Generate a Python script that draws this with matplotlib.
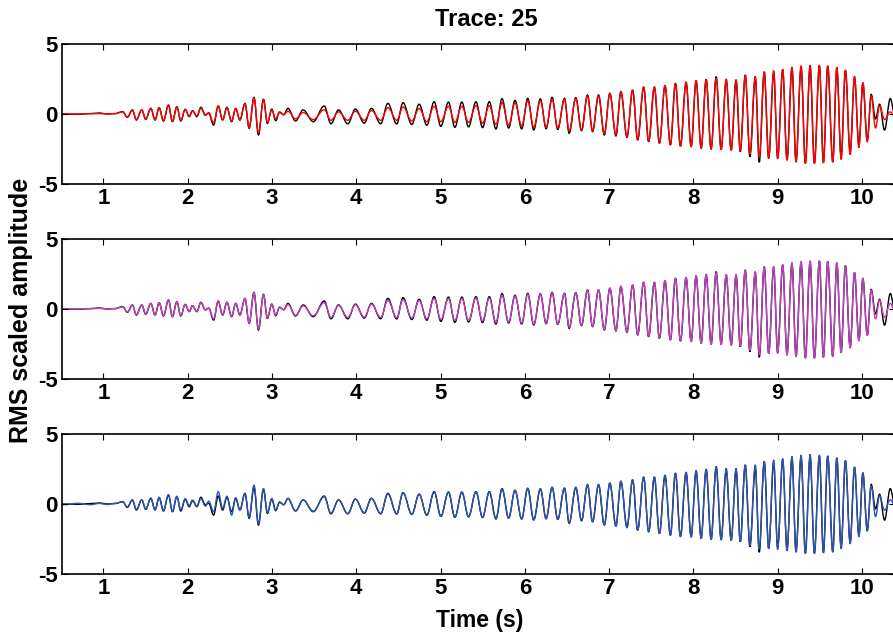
import numpy as np
import matplotlib
matplotlib.use("Agg")
import matplotlib.pyplot as plt
from matplotlib.path import Path
from matplotlib.patches import PathPatch

# times of the turning points (s), shared by all traces
t_ext = [0.51, 0.70, 0.85, 0.95, 1.05, 1.14, 1.23, 1.285, 1.345, 1.392,
         1.456, 1.503, 1.563, 1.614, 1.662, 1.713, 1.773, 1.820, 1.872, 1.919,
         1.971, 2.019, 2.058, 2.110, 2.157, 2.21, 2.25, 2.308, 2.363, 2.415,
         2.466, 2.522, 2.57, 2.62, 2.68, 2.73, 2.787, 2.84, 2.90, 2.946,
         2.998, 3.045, 3.09, 3.14, 3.19, 3.28, 3.37, 3.49, 3.62, 3.70,
         3.79, 3.90, 3.99, 4.095, 4.18, 4.29, 4.375, 4.48, 4.555, 4.659,
         4.746, 4.837, 4.924, 5.003, 5.094, 5.170, 5.253, 5.332, 5.420, 5.498,
         5.578, 5.657, 5.729, 5.808, 5.883, 5.962, 6.034, 6.105, 6.184, 6.252,
         6.323, 6.390, 6.470, 6.525, 6.604, 6.672, 6.743, 6.803, 6.874, 6.942,
         7.008, 7.080, 7.139, 7.211, 7.278, 7.338, 7.409, 7.468, 7.536, 7.596,
         7.662, 7.726, 7.786, 7.845, 7.912, 7.972, 8.031, 8.091, 8.150, 8.209,
         8.269, 8.328, 8.388, 8.447, 8.505, 8.555, 8.614, 8.669, 8.733, 8.780,
         8.839, 8.892, 8.951, 8.998, 9.058, 9.109, 9.168, 9.216, 9.276, 9.327,
         9.383, 9.434, 9.493, 9.541, 9.592, 9.652, 9.700, 9.751, 9.802, 9.858,
         9.910, 9.962, 10.009, 10.061, 10.108, 10.159, 10.207, 10.266, 10.334, 10.39]

# observed trace (black, same in every panel)
obs = [0.00, -0.02, 0.03, 0.07, 0.00, 0.03, 0.17, -0.24, 0.29, -0.43,
       0.29, -0.38, 0.40, -0.43, 0.45, -0.50, 0.64, -0.55, 0.52, -0.50,
       0.33, -0.19, 0.24, -0.19, 0.48, -0.05, 0.05, -0.79, 0.57, -0.43,
       0.48, -0.55, 0.40, -0.43, 0.76, -1.02, 1.19, -1.50, 1.05, -0.67,
       0.35, -0.48, 0.12, -0.05, 0.40, -0.50, 0.29, -0.55, 0.57, -0.70,
       0.29, -0.70, 0.35, -0.65, 0.40, -0.70, 0.76, -0.71, 0.81, -0.75,
       0.70, -0.80, 0.88, -0.88, 0.85, -0.95, 0.85, -0.92, 0.88, -0.97,
       0.88, -1.07, 1.10, -1.00, 0.98, -1.07, 1.12, -1.14, 1.08, -1.05,
       1.19, -1.10, 1.12, -1.38, 1.17, -1.19, 1.36, -1.26, 1.36, -1.50,
       1.48, -1.57, 1.60, -1.67, 1.71, -1.86, 1.90, -1.98, 1.90, -2.10,
       2.02, -2.21, 2.19, -2.29, 2.24, -2.33, 2.36, -2.45, 2.48, -2.52,
       2.67, -2.52, 2.40, -2.57, 2.45, -2.69, 2.79, -3.05, 2.60, -3.45,
       3.02, -3.17, 2.95, -3.10, 3.14, -3.29, 3.28, -3.40, 3.36, -3.50,
       3.40, -3.50, 3.43, -3.45, 3.40, -3.40, 3.30, -3.10, 3.10, -2.75,
       2.60, -2.25, 2.20, -1.86, 1.40, -0.35, 0.70, -1.15, 1.10, -0.15]

# synthetic traces
syn_red = [0.00, 0.00, 0.02, 0.03, 0.01, 0.03, 0.15, -0.22, 0.27, -0.40,
           0.28, -0.35, 0.40, -0.40, 0.45, -0.48, 0.62, -0.52, 0.50, -0.45,
           0.30, -0.15, 0.22, -0.15, 0.42, -0.10, 0.10, -0.62, 0.55, -0.40,
           0.45, -0.50, 0.38, -0.40, 0.72, -0.95, 1.15, -1.35, 1.00, -0.60,
           0.28, -0.35, 0.15, -0.05, 0.20, -0.35, 0.10, -0.40, 0.30, -0.45,
           0.15, -0.45, 0.20, -0.45, 0.25, -0.45, 0.45, -0.45, 0.50, -0.50,
           0.40, -0.55, 0.55, -0.55, 0.55, -0.60, 0.55, -0.60, 0.60, -0.65,
           0.60, -0.75, 0.80, -0.80, 0.80, -0.85, 0.95, -0.95, 0.95, -0.95,
           1.05, -1.00, 1.05, -1.20, 1.10, -1.15, 1.30, -1.20, 1.30, -1.40,
           1.45, -1.50, 1.60, -1.60, 1.70, -1.80, 1.95, -1.95, 1.95, -2.05,
           2.05, -2.20, 2.20, -2.30, 2.30, -2.35, 2.40, -2.45, 2.45, -2.50,
           2.55, -2.55, 2.50, -2.60, 2.40, -2.60, 2.75, -2.85, 2.70, -3.10,
           3.00, -3.15, 3.10, -3.20, 3.20, -3.30, 3.35, -3.45, 3.45, -3.55,
           3.50, -3.55, 3.50, -3.50, 3.45, -3.45, 3.35, -3.25, 3.15, -2.90,
           2.70, -2.40, 2.25, -2.00, 1.30, -1.00, 0.60, -0.40, 0.15, -0.20]

syn_mag = [0.00, 0.00, 0.02, 0.04, 0.01, 0.03, 0.15, -0.22, 0.27, -0.40,
           0.28, -0.36, 0.40, -0.42, 0.45, -0.48, 0.62, -0.52, 0.50, -0.47,
           0.32, -0.17, 0.23, -0.17, 0.45, -0.08, 0.08, -0.70, 0.55, -0.42,
           0.46, -0.52, 0.40, -0.42, 0.74, -0.98, 1.17, -1.42, 1.02, -0.62,
           0.32, -0.42, 0.13, -0.05, 0.32, -0.45, 0.22, -0.48, 0.45, -0.60,
           0.25, -0.60, 0.30, -0.58, 0.35, -0.60, 0.62, -0.62, 0.68, -0.65,
           0.60, -0.70, 0.75, -0.75, 0.75, -0.82, 0.75, -0.82, 0.78, -0.85,
           0.78, -0.95, 0.98, -0.92, 0.92, -1.00, 1.05, -1.08, 1.05, -1.02,
           1.15, -1.08, 1.12, -1.30, 1.15, -1.18, 1.34, -1.24, 1.34, -1.46,
           1.48, -1.55, 1.62, -1.65, 1.72, -1.85, 1.93, -1.98, 1.93, -2.08,
           2.05, -2.22, 2.22, -2.30, 2.28, -2.35, 2.40, -2.45, 2.48, -2.52,
           2.60, -2.55, 2.48, -2.60, 2.45, -2.65, 2.78, -2.95, 2.68, -3.25,
           3.02, -3.18, 3.05, -3.18, 3.18, -3.30, 3.32, -3.42, 3.40, -3.52,
           3.45, -3.52, 3.45, -3.45, 3.40, -3.40, 3.30, -3.15, 3.10, -2.80,
           2.62, -2.30, 2.20, -1.90, 1.35, -0.70, 0.65, -0.60, 0.40, -0.20]

syn_blue = [-0.05, 0.05, -0.05, 0.04, -0.04, 0.05, 0.15, -0.20, 0.28, -0.38,
            0.30, -0.35, 0.42, -0.40, 0.48, -0.45, 0.66, -0.52, 0.55, -0.42,
            0.38, -0.12, 0.28, -0.15, 0.40, -0.15, 0.20, -0.55, 0.88, -0.30,
            0.55, -0.79, 0.45, -0.40, 0.72, -0.95, 1.35, -1.40, 1.10, -0.60,
            0.38, -0.45, 0.15, -0.05, 0.38, -0.48, 0.28, -0.52, 0.52, -0.65,
            0.28, -0.68, 0.34, -0.62, 0.40, -0.68, 0.72, -0.70, 0.80, -0.74,
            0.70, -0.78, 0.86, -0.86, 0.84, -0.92, 0.84, -0.90, 0.86, -0.95,
            0.86, -1.05, 1.08, -1.00, 0.98, -1.05, 1.12, -1.12, 1.08, -1.05,
            1.20, -1.10, 1.15, -1.35, 1.20, -1.20, 1.40, -1.28, 1.40, -1.50,
            1.50, -1.58, 1.65, -1.68, 1.75, -1.88, 1.95, -2.00, 1.95, -2.12,
            2.08, -2.25, 2.22, -2.35, 2.28, -2.38, 2.40, -2.48, 2.50, -2.55,
            2.62, -2.58, 2.55, -2.62, 2.55, -2.70, 2.80, -2.95, 2.80, -3.20,
            3.05, -3.20, 3.15, -3.25, 3.25, -3.35, 3.40, -3.45, 3.50, -3.55,
            3.55, -3.55, 3.50, -3.50, 3.45, -3.45, 3.30, -3.20, 3.10, -2.85,
            2.65, -2.35, 2.25, -1.95, 1.30, -0.90, 0.60, -0.45, 0.30, -0.10]

xticks = [1, 2, 3, 4, 5, 6, 7, 8, 9, 10]
yticks = [-5, 0, 5]
panel_colors = ["#ff0000", "#c040c0", "#2a55b5"]
panel_syn = [syn_red, syn_mag, syn_blue]

assert len(t_ext) == len(obs) == len(syn_red) == len(syn_mag) == len(syn_blue)


def trace_path(t, v, a=0.364):
    # smooth curve through the turning points, flat tangent at each one
    verts = [(t[0], v[0])]
    codes = [Path.MOVETO]
    for i in range(len(t) - 1):
        d = t[i + 1] - t[i]
        verts += [(t[i] + a * d, v[i]), (t[i + 1] - a * d, v[i + 1]), (t[i + 1], v[i + 1])]
        codes += [Path.CURVE4] * 3
    return Path(verts, codes)


plt.rcParams["font.family"] = ["Liberation Sans", "DejaVu Sans"]
plt.rcParams["font.weight"] = "bold"
plt.rcParams["axes.unicode_minus"] = False

W, H = 893, 635
fig = plt.figure(figsize=(W / 100, H / 100), dpi=100)

tops = [44, 239, 434]
for top, col, syn in zip(tops, panel_colors, panel_syn):
    ax = fig.add_axes([62 / W, 1 - (top + 140) / H, 833 / W, 140 / H])
    ax.add_patch(PathPatch(trace_path(t_ext, obs), facecolor="none", edgecolor="black", lw=1.0))
    ax.add_patch(PathPatch(trace_path(t_ext, syn), facecolor="none", edgecolor=col, lw=1.0))
    ax.set_xlim(0.51, 10.39)
    ax.set_ylim(-5, 5)
    ax.set_xticks(xticks)
    ax.set_yticks(yticks)
    ax.tick_params(direction="in", top=True, right=True, length=4,
                   width=0.8, labelsize=16, pad=3)
    for lab in ax.get_xticklabels() + ax.get_yticklabels():
        lab.set_fontweight("bold")
    for sp in ax.spines.values():
        sp.set_linewidth(1.2)

fig.text(486 / W, 1 - 20 / H, "Trace: 25", ha="center", va="center",
         fontsize=17, fontweight="bold")
fig.text(21 / W, 1 - 310 / H, "RMS scaled amplitude", ha="center",
         va="center", rotation=90, fontsize=18, fontweight="bold")
fig.text(480 / W, 1 - 620 / H, "Time (s)", ha="center", va="center",
         fontsize=16.5, fontweight="bold")

fig.savefig("out.png", dpi=100)
